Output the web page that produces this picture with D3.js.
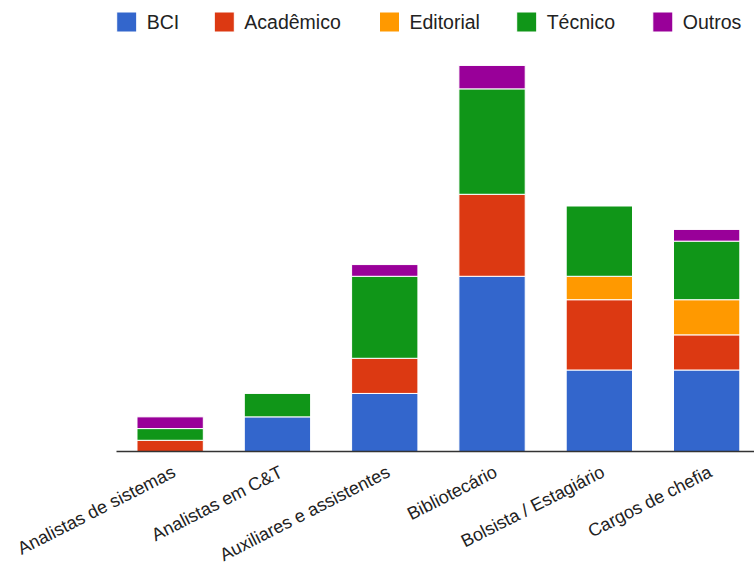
<!DOCTYPE html>
<html>
<head>
<meta charset="utf-8">
<script src="https://cdn.jsdelivr.net/npm/d3@7"></script>
<style>
  html, body { margin: 0; padding: 0; background: #fff; }
  svg { display: block; font-family: "Liberation Sans", Arial, sans-serif; }
</style>
</head>
<body>
<svg id="chart" width="754" height="565"></svg>
<script>
// Categories (x axis) and the stacked series counts
const categories = [
  "Analistas de sistemas",
  "Analistas em C&T",
  "Auxiliares e assistentes",
  "Bibliotecário",
  "Bolsista / Estagiário",
  "Cargos de chefia"
];
const seriesNames = ["BCI", "Acadêmico", "Editorial", "Técnico", "Outros"];
const seriesColors = ["#3366cc", "#dc3912", "#ff9900", "#109618", "#990099"];

const bci       = [0, 3, 5, 15, 7, 7];
const academico = [1, 0, 3, 7, 6, 3];
const editorial = [0, 0, 0, 0, 2, 3];
const tecnico   = [1, 2, 7, 9, 6, 5];
const outros    = [1, 0, 1, 2, 0, 1];

const seriesValues = [bci, academico, editorial, tecnico, outros];

// Build rows for d3.stack
const rows = categories.map((c, i) => {
  const r = { category: c };
  seriesNames.forEach((s, k) => { r[s] = seriesValues[k][i]; });
  return r;
});

const svg = d3.select("#chart");

const plotLeft = 116.5, plotRight = 760.3;
const baseY = 452, topY = 42;

const x = d3.scaleBand()
  .domain(categories)
  .range([plotLeft, plotRight])
  .paddingInner(0.382)
  .paddingOuter(0.191);

const y = d3.scaleLinear()
  .domain([0, 35])
  .range([baseY, topY]);

const color = d3.scaleOrdinal().domain(seriesNames).range(seriesColors);

const stacked = d3.stack().keys(seriesNames)(rows);

// Bars
const layers = svg.append("g").attr("class", "bars")
  .selectAll("g")
  .data(stacked)
  .join("g")
  .attr("fill", d => color(d.key));

layers.selectAll("rect")
  .data(d => d.filter(p => p[1] - p[0] > 0))
  .join("rect")
  .attr("x", p => x(p.data.category))
  .attr("y", p => y(p[1]))
  .attr("width", x.bandwidth())
  .attr("height", p => y(p[0]) - y(p[1]))
  .attr("stroke", "#ffffff")
  .attr("stroke-width", 1);

// Baseline
svg.append("line")
  .attr("x1", plotLeft).attr("x2", 754)
  .attr("y1", baseY - 0.5).attr("y2", baseY - 0.5)
  .attr("stroke", "#333333")
  .attr("stroke-width", 1.5);

// Slanted category labels
const xAxis = d3.axisBottom(x).tickSize(0).tickPadding(0);
const axisG = svg.append("g")
  .attr("transform", `translate(0,${baseY})`)
  .call(xAxis);
axisG.select(".domain").remove();
axisG.selectAll("text")
  .attr("font-size", 18)
  .attr("font-family", "'Liberation Sans', Arial, sans-serif")
  .attr("fill", "#222222")
  .attr("text-anchor", "end")
  .attr("dy", null)
  .attr("y", null)
  .attr("transform", "translate(6.5,24) rotate(-27)");

// Legend
const legendX = [116.7, 214.3, 379.5, 516.7, 652.8];
const legend = svg.append("g").attr("class", "legend")
  .selectAll("g")
  .data(seriesNames)
  .join("g")
  .attr("transform", (d, i) => `translate(${legendX[i]},12)`);

legend.append("rect")
  .attr("width", 20)
  .attr("height", 20)
  .attr("fill", d => color(d))
  .attr("stroke", "#ffffff")
  .attr("stroke-width", 1);

legend.append("text")
  .attr("x", 30)
  .attr("y", 16.5)
  .attr("font-size", 19.5)
  .attr("fill", "#222222")
  .text(d => d);
</script>
</body>
</html>
